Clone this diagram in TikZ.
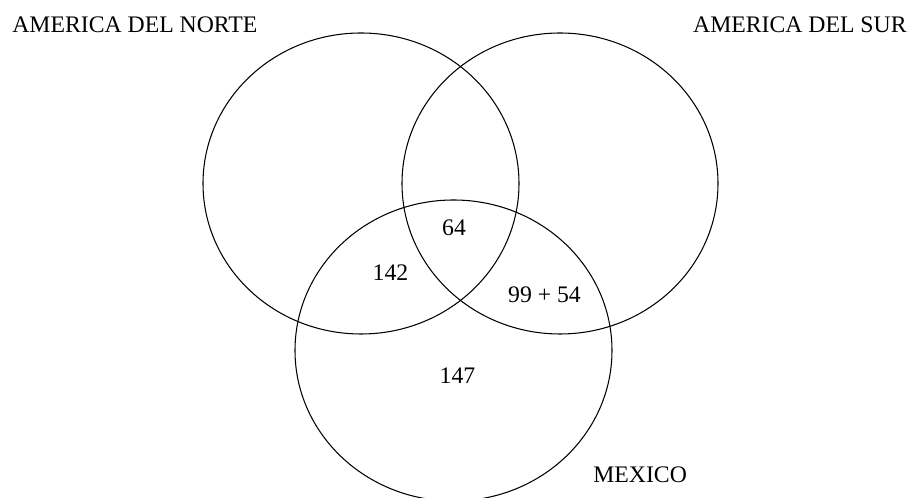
\documentclass[tikz,border=0pt]{standalone}
\usepackage{fontspec}
\setmainfont{Liberation Serif}
\usepackage{tikz}

\begin{document}
\begin{tikzpicture}[x=1cm,y=1cm,font=\fontsize{13.5}{16}\selectfont]
\path[use as bounding box] (0,0) rectangle (18.2,9.96);
\draw[line width=.6pt] (7.22,6.29) ellipse (3.16 and 3.01);
\draw[line width=.6pt] (11.2,6.29) ellipse (3.16 and 3.01);
\draw[line width=.6pt] (9.07,2.95) ellipse (3.17 and 3.01);
\node[anchor=base west,inner sep=0] (norte) at (.24,9.30) {AMERICA DEL NORTE};
\node[anchor=base east,inner sep=0] (sur) at (18.14,9.30) {AMERICA DEL SUR};
\node[anchor=base west,inner sep=0] (mexico) at (11.86,.30) {MEXICO};
\node[anchor=base,inner sep=0] (todos) at (9.08,5.24) {64};
\node[anchor=base,inner sep=0] (nortemex) at (7.81,4.34) {142};
\node[anchor=base,inner sep=0] (surmex) at (10.89,3.90) {99 + 54};
\node[anchor=base,inner sep=0] (solomex) at (9.15,2.28) {147};
\end{tikzpicture}
\end{document}
